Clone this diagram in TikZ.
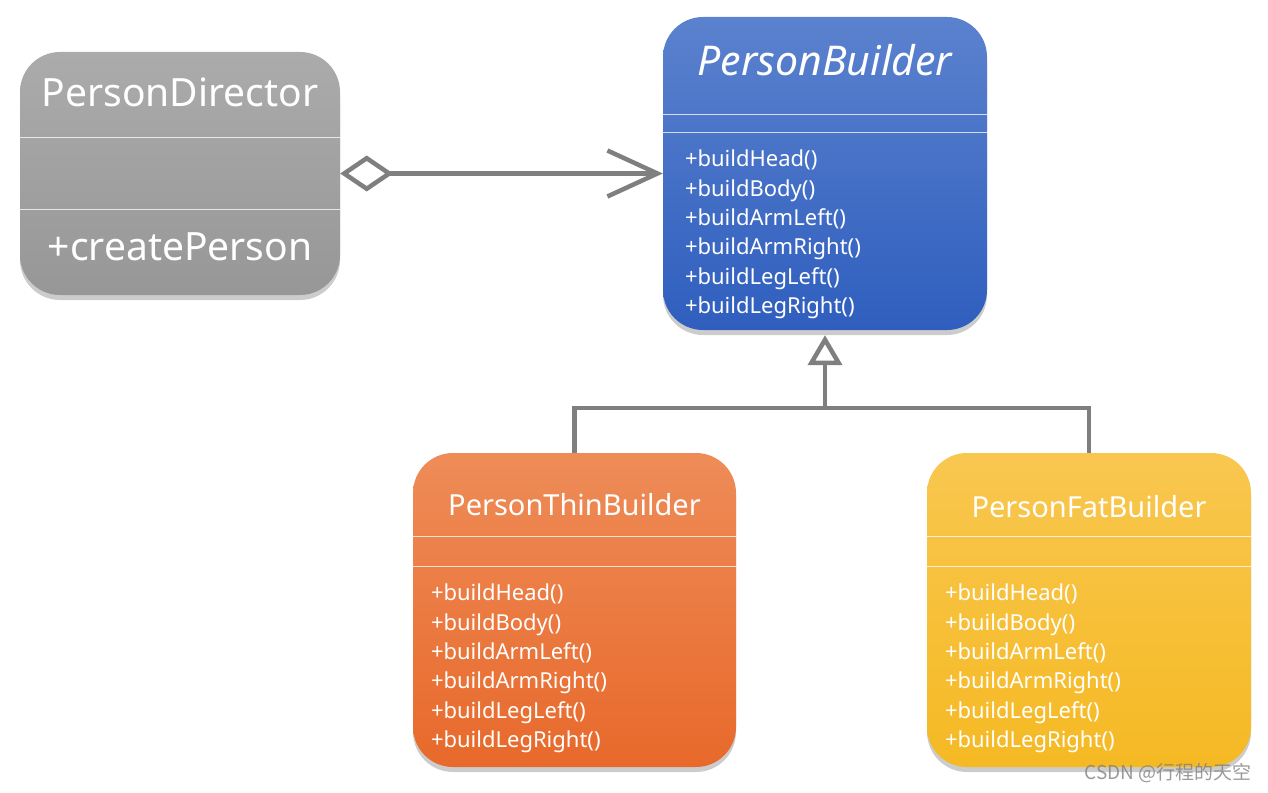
\documentclass[tikz,border=0pt]{standalone}
\usepackage{fontspec}
\setmainfont{Noto Sans}
\newfontfamily\cjkfont{Noto Sans CJK SC}
\usetikzlibrary{positioning,arrows.meta,shadows}

\definecolor{dirtop}{HTML}{ABABAB}
\definecolor{dirbot}{HTML}{979797}
\definecolor{bldtop}{HTML}{5B82CE}
\definecolor{bldbot}{HTML}{2F5EBE}
\definecolor{thintop}{HTML}{EE8C58}
\definecolor{thinbot}{HTML}{E8692B}
\definecolor{fattop}{HTML}{F9C750}
\definecolor{fatbot}{HTML}{F5B923}
\definecolor{linkgray}{HTML}{7F7F7F}

\newcommand{\buildmethods}{+buildHead()\\+buildBody()\\+buildArmLeft()\\+buildArmRight()\\+buildLegLeft()\\+buildLegRight()}

\tikzset{
    class-box/.style = {rectangle, rounded corners=40pt, minimum width=323pt, minimum height=314pt, inner sep=0pt,
        drop shadow={opacity=0.4, shadow xshift=0pt, shadow yshift=-5pt}},
    class-title/.style = {text=white, inner sep=0pt, font=\fontsize{29}{34}\selectfont},
    class-methods/.style = {text=white, inner sep=0pt, anchor=north west, align=left, font=\fontsize{22}{29.4}\selectfont},
    sep-line/.style = {draw=white, opacity=0.75, line width=1.3pt},
    link/.style = {draw=linkgray, line width=4.5pt},
}

\begin{document}
\begin{tikzpicture}[x=1pt, y=1pt]
\useasboundingbox (0,0) rectangle (1268,-792);

% classes
\node [class-box, top color=dirtop, bottom color=dirbot, minimum width=320pt, minimum height=243pt] (director) at (180,-173.5) {};
\node [class-box, top color=bldtop, bottom color=bldbot, minimum width=324pt, minimum height=313pt] (builder) at (825,-173.5) {};
\node [class-box, top color=thintop, bottom color=thinbot] (thin) at (574.5,-610) {};
\node [class-box, top color=fattop, bottom color=fatbot, minimum width=324pt] (fat) at (1089,-610) {};

% director
\node [class-title, font=\fontsize{39}{44}\selectfont] (director-title) at ([yshift=-41pt]director.north) {PersonDirector};
\draw [sep-line] ([yshift=-86pt]director.north west) -- ([yshift=-86pt]director.north east);
\draw [sep-line] ([yshift=-158pt]director.north west) -- ([yshift=-158pt]director.north east);
\node [class-title, font=\fontsize{39}{44}\selectfont] (director-op) at ([yshift=-195pt]director.north) {+createPerson};

% builder
\node [class-title, font=\fontsize{41}{46}\selectfont\itshape] (builder-title) at ([yshift=-43pt]builder.north) {PersonBuilder};
\draw [sep-line] ([yshift=-98pt]builder.north west) -- ([yshift=-98pt]builder.north east);
\draw [sep-line] ([yshift=-116pt]builder.north west) -- ([yshift=-116pt]builder.north east);
\node [class-methods] (builder-ops) at ([xshift=22pt, yshift=-133pt]builder.north west) {\buildmethods};

% thin
\node [class-title] (thin-title) at ([yshift=-52pt]thin.north) {PersonThinBuilder};
\draw [sep-line] ([yshift=-84pt]thin.north west) -- ([yshift=-84pt]thin.north east);
\draw [sep-line] ([yshift=-114pt]thin.north west) -- ([yshift=-114pt]thin.north east);
\node [class-methods] (thin-ops) at ([xshift=18pt, yshift=-131pt]thin.north west) {\buildmethods};

% fat
\node [class-title] (fat-title) at ([yshift=-54pt]fat.north) {PersonFatBuilder};
\draw [sep-line] ([yshift=-84pt]fat.north west) -- ([yshift=-84pt]fat.north east);
\draw [sep-line] ([yshift=-114pt]fat.north west) -- ([yshift=-114pt]fat.north east);
\node [class-methods] (fat-ops) at ([xshift=18pt, yshift=-131pt]fat.north west) {\buildmethods};

% aggregation
\draw [link, {Diamond[open, length=53pt, width=36pt]}-{Straight Barb[length=50pt, width=46pt]}] (director.east) -- (builder.west);

% generalization
\coordinate (fork) at (builder.south |- 0,-408);
\draw [link] (thin.north) |- (fork) -| (fat.north);
\draw [link, -{Triangle[open, length=30pt, width=34pt]}] (fork) -- ([yshift=-5pt]builder.south);

\node [text=gray, opacity=0.8, font=\cjkfont\fontsize{19}{22}\selectfont] (mark) at (1168,-773) {CSDN @行程的天空};
\end{tikzpicture}
\end{document}
